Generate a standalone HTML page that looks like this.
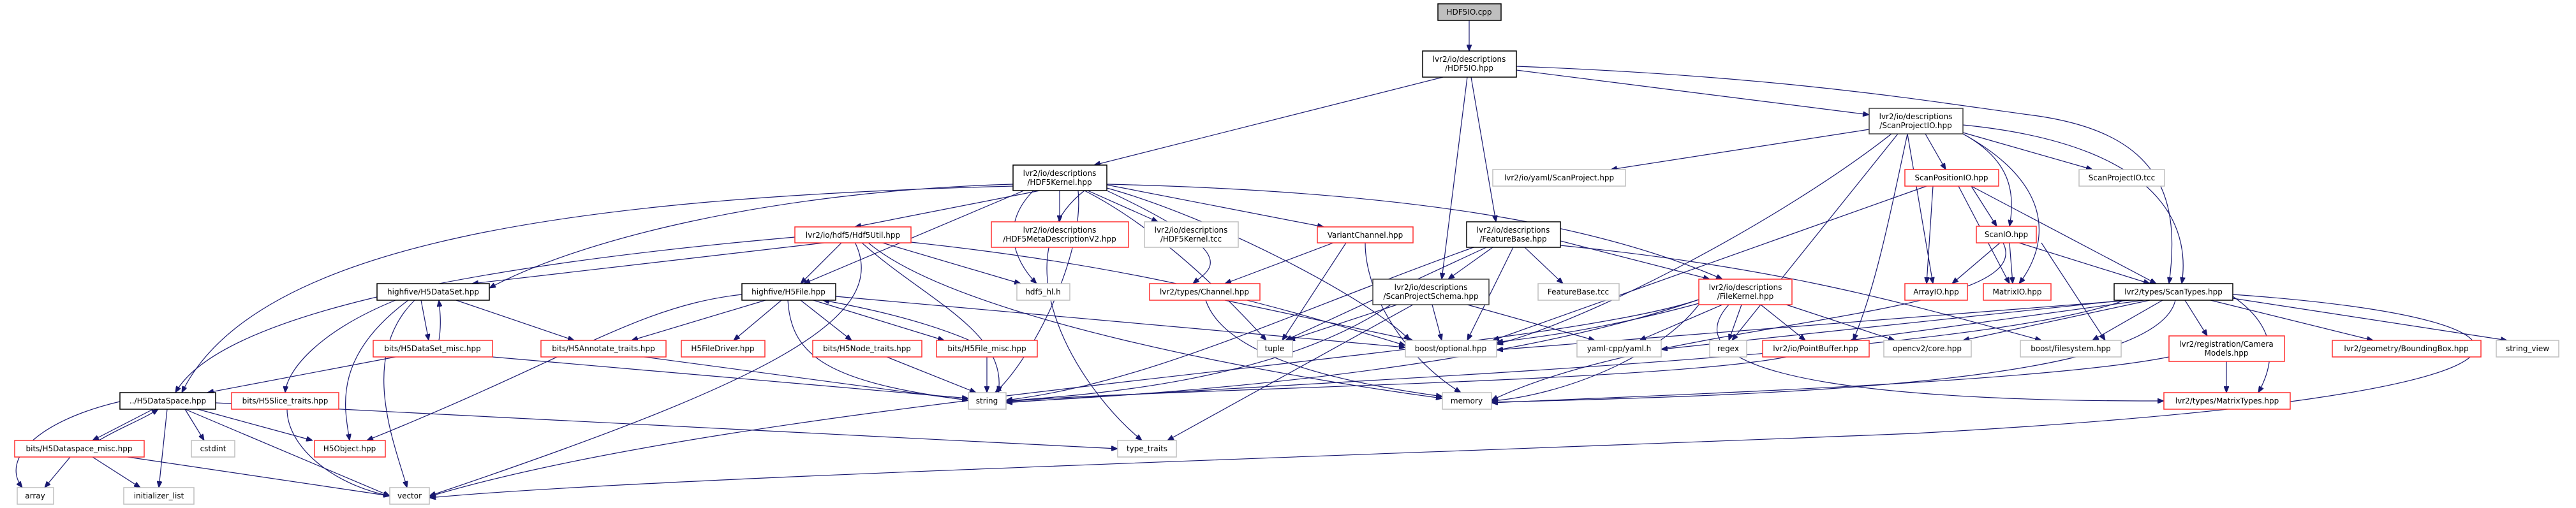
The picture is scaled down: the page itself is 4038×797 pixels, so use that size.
<!DOCTYPE html>
<html><head><meta charset="utf-8"><style>
html,body{margin:0;padding:0;background:#fff;}
svg{display:block;}
text{font-family:"DejaVu Sans","Liberation Sans",sans-serif;font-size:12px;fill:#000;text-anchor:middle;}
.b{fill:#fff;stroke:#000;stroke-width:1.5}
.d{fill:#fff;stroke:#404040;stroke-width:1.5}
.r{fill:#fff;stroke:#ff3030;stroke-width:1.5}
.g{fill:#fff;stroke:#bfbfbf;stroke-width:1.5}
.e path,.e line{stroke:#191970;stroke-width:1.2;fill:none;marker-end:url(#ah)}
</style></head><body>
<svg width="4038" height="797" viewBox="0 0 4038 797" xmlns="http://www.w3.org/2000/svg">
<defs><marker id="ah" markerWidth="10" markerHeight="8" refX="10" refY="4" orient="auto" markerUnits="userSpaceOnUse"><path d="M0,0 L10,4 L0,8 z" fill="#191970" stroke="#191970"/></marker></defs>
<g class="e">
<line x1="2303" y1="32" x2="2303" y2="80"/>
<line x1="2262" y1="121" x2="1715" y2="259"/>
<line x1="2377" y1="110" x2="2930" y2="180"/>
<line x1="2306" y1="121" x2="2345" y2="348"/>
<line x1="2300" y1="121" x2="2260" y2="438"/>
<path d="M2377,104 C2800,120 3030,160 3180,180 C3380,205 3420,300 3400,445"/>
<line x1="2930" y1="203" x2="2525" y2="266"/>
<line x1="3018" y1="210" x2="3050" y2="266"/>
<line x1="3077" y1="208" x2="3280" y2="266"/>
<path d="M3077,210 C3150,250 3160,300 3150,355"/>
<line x1="2990" y1="210" x2="3030" y2="445"/>
<path d="M3077,210 C3240,300 3200,400 3165,445"/>
<path d="M3077,196 C3420,230 3430,380 3420,445"/>
<path d="M2965,210 C2800,340 2500,500 2346,540"/>
<line x1="2975" y1="210" x2="2715" y2="534"/>
<path d="M2990,210 C2960,350 2940,450 2905,534"/>
<line x1="1630" y1="299" x2="1340" y2="356"/>
<line x1="1661" y1="299" x2="1661" y2="348"/>
<line x1="1705" y1="299" x2="1815" y2="348"/>
<line x1="1735" y1="290" x2="2075" y2="356"/>
<path d="M1588,289 C1200,300 900,380 767,452"/>
<line x1="1605" y1="299" x2="1260" y2="445"/>
<path d="M1588,292 C900,310 400,380 285,616"/>
<path d="M1620,299 C1560,360 1600,420 1625,445"/>
<path d="M1700,299 C1800,350 1900,440 1985,534"/>
<path d="M1735,295 C1900,340 2150,470 2210,534"/>
<path d="M1700,299 C1570,400 1680,600 1790,691"/>
<path d="M1690,299 C1700,400 1620,560 1560,616"/>
<path d="M1735,299 C1950,400 1900,420 1870,445"/>
<path d="M1735,289 C2200,300 2500,350 2700,438"/>
<line x1="1300" y1="380" x2="740" y2="445"/>
<line x1="1320" y1="380" x2="1255" y2="445"/>
<path d="M1246,372 C700,420 340,500 275,616"/>
<line x1="1380" y1="380" x2="1600" y2="445"/>
<path d="M1350,380 C1450,470 1580,520 1565,616"/>
<path d="M1360,380 C1500,500 2000,590 2261,625"/>
<path d="M1340,380 C1400,500 1200,600 673,778"/>
<path d="M1428,380 C1800,420 2000,480 2203,542"/>
<line x1="2090" y1="381" x2="1920" y2="445"/>
<line x1="2110" y1="381" x2="2010" y2="534"/>
<path d="M2140,381 C2140,460 2200,560 2290,616"/>
<line x1="1920" y1="471" x2="2215" y2="534"/>
<path d="M1890,471 C1920,560 2100,600 2261,622"/>
<line x1="2340" y1="388" x2="2270" y2="438"/>
<line x1="2390" y1="388" x2="2450" y2="445"/>
<line x1="2446" y1="378" x2="2680" y2="438"/>
<line x1="2330" y1="388" x2="2015" y2="534"/>
<line x1="2372" y1="388" x2="2300" y2="534"/>
<path d="M2310,388 C2000,500 1800,600 1577,628"/>
<path d="M2446,385 C2800,420 3000,480 3200,534"/>
<line x1="2190" y1="478" x2="2020" y2="534"/>
<line x1="2245" y1="478" x2="2260" y2="534"/>
<line x1="2300" y1="478" x2="2500" y2="534"/>
<path d="M2180,478 C2000,600 1700,620 1577,629"/>
<line x1="2215" y1="478" x2="1830" y2="691"/>
<path d="M2663,476 C2500,520 2400,530 2346,537"/>
<line x1="2700" y1="478" x2="2570" y2="534"/>
<line x1="2730" y1="478" x2="2710" y2="534"/>
<line x1="2760" y1="478" x2="2830" y2="534"/>
<line x1="2800" y1="478" x2="2970" y2="534"/>
<path d="M2663,470 C2400,560 2000,610 1577,631"/>
<path d="M2663,478 C2600,560 2450,620 2338,629"/>
<path d="M2710,478 C2600,600 3000,630 3392,629"/>
<path d="M2663,470 C2400,560 1200,620 673,779"/>
<line x1="3090" y1="292" x2="3130" y2="355"/>
<line x1="3030" y1="292" x2="3020" y2="445"/>
<line x1="3070" y1="292" x2="3150" y2="445"/>
<line x1="3090" y1="292" x2="3380" y2="445"/>
<line x1="3020" y1="292" x2="2340" y2="534"/>
<line x1="3135" y1="381" x2="3060" y2="445"/>
<line x1="3150" y1="381" x2="3155" y2="445"/>
<line x1="3165" y1="381" x2="3370" y2="445"/>
<line x1="3200" y1="381" x2="3300" y2="534"/>
<path d="M3140,381 C3200,500 2600,500 2338,628"/>
<line x1="3340" y1="471" x2="2346" y2="549"/>
<line x1="3330" y1="471" x2="2604" y2="548"/>
<line x1="3360" y1="471" x2="2900" y2="534"/>
<line x1="3370" y1="471" x2="3077" y2="534"/>
<line x1="3390" y1="471" x2="3280" y2="534"/>
<line x1="3425" y1="471" x2="3460" y2="527"/>
<line x1="3465" y1="471" x2="3720" y2="534"/>
<line x1="3500" y1="468" x2="3930" y2="534"/>
<path d="M3500,465 C3580,520 3560,580 3540,616"/>
<path d="M3330,471 C3100,560 2000,600 1577,632"/>
<path d="M3410,471 C3380,600 2800,620 2338,631"/>
<path d="M3500,462 C4050,500 4100,620 3000,680 C2000,720 1000,750 673,781"/>
<line x1="3490" y1="567" x2="3490" y2="616"/>
<path d="M3400,560 C3200,600 2600,620 2338,632"/>
<path d="M2800,560 C2600,600 1800,610 1577,630"/>
<line x1="660" y1="471" x2="672" y2="534"/>
<path d="M688,534 C692,510 690,490 688,471"/>
<line x1="715" y1="471" x2="900" y2="534"/>
<path d="M620,471 C500,520 450,580 447,616"/>
<path d="M640,471 C520,560 540,640 548,691"/>
<path d="M650,471 C560,560 620,700 638,765"/>
<line x1="620" y1="560" x2="325" y2="616"/>
<line x1="772" y1="560" x2="1518" y2="625"/>
<line x1="1200" y1="471" x2="990" y2="534"/>
<line x1="1225" y1="471" x2="1150" y2="534"/>
<line x1="1255" y1="471" x2="1335" y2="534"/>
<line x1="1275" y1="471" x2="1480" y2="534"/>
<path d="M1520,534 C1440,500 1340,480 1290,471"/>
<path d="M1163,462 C1000,480 900,560 575,691"/>
<path d="M1235,471 C1240,560 1300,600 1518,628"/>
<line x1="1310" y1="465" x2="2203" y2="545"/>
<line x1="1010" y1="560" x2="1518" y2="628"/>
<line x1="1390" y1="560" x2="1530" y2="616"/>
<line x1="1547" y1="560" x2="1547" y2="616"/>
<line x1="240" y1="642" x2="145" y2="691"/>
<path d="M155,691 C190,670 220,660 248,642"/>
<line x1="290" y1="642" x2="320" y2="691"/>
<line x1="310" y1="642" x2="490" y2="691"/>
<line x1="262" y1="642" x2="249" y2="765"/>
<line x1="290" y1="642" x2="611" y2="778"/>
<path d="M188,630 C60,660 0,720 35,765"/>
<line x1="338" y1="632" x2="1752" y2="704"/>
<line x1="110" y1="717" x2="70" y2="765"/>
<line x1="145" y1="717" x2="220" y2="765"/>
<line x1="200" y1="717" x2="611" y2="778"/>
<path d="M450,642 C450,700 520,760 611,778"/>
</g>
<g>
<rect x="2254" y="6" width="99" height="26" fill="#bfbfbf" stroke="#000" stroke-width="1.5"/><text x="2303" y="23">HDF5IO.cpp</text>
<rect class="b" x="2230" y="80" width="147" height="41"/><text x="2303" y="97">lvr2/io/descriptions</text><text x="2303" y="111">/HDF5IO.hpp</text>
<rect class="d" x="2930" y="170" width="147" height="40"/><text x="3003" y="187">lvr2/io/descriptions</text><text x="3003" y="201">/ScanProjectIO.hpp</text>
<rect class="b" x="1588" y="259" width="147" height="40"/><text x="1661" y="276">lvr2/io/descriptions</text><text x="1661" y="290">/HDF5Kernel.hpp</text>
<rect class="g" x="2340" y="266" width="208" height="26"/><text x="2444" y="283">lvr2/io/yaml/ScanProject.hpp</text>
<rect class="r" x="2986" y="266" width="147" height="26"/><text x="3059" y="283">ScanPositionIO.hpp</text>
<rect class="g" x="3259" y="266" width="134" height="26"/><text x="3326" y="283">ScanProjectIO.tcc</text>
<rect class="r" x="1246" y="356" width="182" height="25"/><text x="1337" y="373">lvr2/io/hdf5/Hdf5Util.hpp</text>
<rect class="r" x="1554" y="348" width="215" height="40"/><text x="1661" y="365">lvr2/io/descriptions</text><text x="1661" y="379">/HDF5MetaDescriptionV2.hpp</text>
<rect class="g" x="1794" y="348" width="147" height="40"/><text x="1867" y="365">lvr2/io/descriptions</text><text x="1867" y="379">/HDF5Kernel.tcc</text>
<rect class="r" x="2065" y="356" width="150" height="25"/><text x="2140" y="373">VariantChannel.hpp</text>
<rect class="b" x="2299" y="348" width="147" height="40"/><text x="2372" y="365">lvr2/io/descriptions</text><text x="2372" y="379">/FeatureBase.hpp</text>
<rect class="r" x="3098" y="355" width="94" height="26"/><text x="3145" y="372">ScanIO.hpp</text>
<rect class="b" x="591" y="445" width="176" height="26"/><text x="679" y="462">highfive/H5DataSet.hpp</text>
<rect class="b" x="1163" y="445" width="147" height="26"/><text x="1236" y="462">highfive/H5File.hpp</text>
<rect class="g" x="1594" y="445" width="83" height="26"/><text x="1635" y="462">hdf5_hl.h</text>
<rect class="r" x="1802" y="445" width="173" height="26"/><text x="1888" y="462">lvr2/types/Channel.hpp</text>
<rect class="d" x="2152" y="438" width="182" height="40"/><text x="2243" y="455">lvr2/io/descriptions</text><text x="2243" y="469">/ScanProjectSchema.hpp</text>
<rect class="g" x="2411" y="445" width="127" height="26"/><text x="2474" y="462">FeatureBase.tcc</text>
<rect class="r" x="2663" y="438" width="146" height="40"/><text x="2736" y="455">lvr2/io/descriptions</text><text x="2736" y="469">/FileKernel.hpp</text>
<rect class="r" x="2986" y="445" width="98" height="26"/><text x="3035" y="462">ArrayIO.hpp</text>
<rect class="r" x="3109" y="445" width="106" height="26"/><text x="3162" y="462">MatrixIO.hpp</text>
<rect class="b" x="3314" y="445" width="186" height="26"/><text x="3407" y="462">lvr2/types/ScanTypes.hpp</text>
<rect class="r" x="585" y="534" width="187" height="26"/><text x="678" y="551">bits/H5DataSet_misc.hpp</text>
<rect class="r" x="848" y="534" width="196" height="26"/><text x="946" y="551">bits/H5Annotate_traits.hpp</text>
<rect class="r" x="1068" y="534" width="131" height="26"/><text x="1133" y="551">H5FileDriver.hpp</text>
<rect class="r" x="1274" y="534" width="171" height="26"/><text x="1359" y="551">bits/H5Node_traits.hpp</text>
<rect class="r" x="1468" y="534" width="158" height="26"/><text x="1547" y="551">bits/H5File_misc.hpp</text>
<rect class="g" x="1971" y="534" width="55" height="26"/><text x="1998" y="551">tuple</text>
<rect class="g" x="2203" y="534" width="143" height="26"/><text x="2274" y="551">boost/optional.hpp</text>
<rect class="g" x="2472" y="534" width="132" height="26"/><text x="2538" y="551">yaml-cpp/yaml.h</text>
<rect class="g" x="2680" y="534" width="58" height="26"/><text x="2709" y="551">regex</text>
<rect class="r" x="2763" y="534" width="167" height="26"/><text x="2846" y="551">lvr2/io/PointBuffer.hpp</text>
<rect class="g" x="2953" y="534" width="137" height="26"/><text x="3021" y="551">opencv2/core.hpp</text>
<rect class="g" x="3167" y="534" width="158" height="26"/><text x="3246" y="551">boost/filesystem.hpp</text>
<rect class="r" x="3400" y="527" width="181" height="40"/><text x="3490" y="544">lvr2/registration/Camera</text><text x="3490" y="558">Models.hpp</text>
<rect class="r" x="3656" y="534" width="233" height="26"/><text x="3772" y="551">lvr2/geometry/BoundingBox.hpp</text>
<rect class="g" x="3913" y="534" width="98" height="26"/><text x="3962" y="551">string_view</text>
<rect class="b" x="188" y="616" width="150" height="26"/><text x="263" y="633">../H5DataSpace.hpp</text>
<rect class="r" x="363" y="616" width="168" height="26"/><text x="447" y="633">bits/H5Slice_traits.hpp</text>
<rect class="g" x="1518" y="616" width="59" height="26"/><text x="1547" y="633">string</text>
<rect class="g" x="2261" y="616" width="77" height="26"/><text x="2299" y="633">memory</text>
<rect class="r" x="3392" y="616" width="198" height="26"/><text x="3491" y="633">lvr2/types/MatrixTypes.hpp</text>
<rect class="r" x="23" y="691" width="203" height="26"/><text x="124" y="708">bits/H5Dataspace_misc.hpp</text>
<rect class="g" x="300" y="691" width="68" height="26"/><text x="334" y="708">cstdint</text>
<rect class="r" x="493" y="691" width="111" height="26"/><text x="548" y="708">H5Object.hpp</text>
<rect class="g" x="1752" y="691" width="92" height="26"/><text x="1798" y="708">type_traits</text>
<rect class="g" x="27" y="765" width="57" height="26"/><text x="55" y="782">array</text>
<rect class="g" x="194" y="765" width="110" height="26"/><text x="249" y="782">initializer_list</text>
<rect class="g" x="611" y="765" width="62" height="26"/><text x="642" y="782">vector</text>
</g>
</svg>
</body></html>
